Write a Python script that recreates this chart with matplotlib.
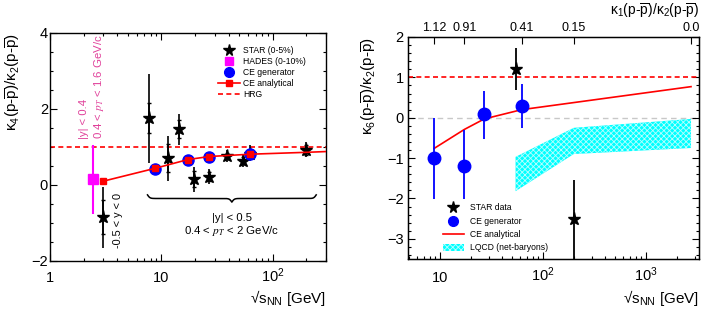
import numpy as np
import matplotlib
matplotlib.use('Agg')
import matplotlib.pyplot as plt
from matplotlib.lines import Line2D
from matplotlib.patches import Patch
from matplotlib.ticker import FixedLocator, MultipleLocator, NullFormatter, LogLocator, NullLocator

plt.rcParams['font.family'] = ['Liberation Sans', 'DejaVu Sans']
plt.rcParams['mathtext.fontset'] = 'custom'
plt.rcParams['mathtext.rm'] = 'Liberation Sans'
plt.rcParams['mathtext.it'] = 'Liberation Sans:italic'
plt.rcParams['mathtext.bf'] = 'Liberation Sans:bold'
plt.rcParams['hatch.linewidth'] = 0.6

# ---------------- Left panel data: kappa4/kappa2 ----------------
star_x = [3.0, 7.7, 11.5, 14.5, 19.6, 27.0, 39.0, 54.4, 62.4, 200.0]
star_y = [-0.85, 1.77, 0.71, 1.47, 0.16, 0.22, 0.76, 0.64, 0.82, 0.92]
star_lo = [-1.66, 0.59, 0.10, 1.06, -0.19, 0.02, 0.60, 0.47, 0.64, 0.73]
star_hi = [-0.05, 2.92, 1.29, 1.87, 0.47, 0.42, 0.93, 0.82, 1.05, 1.12]
star_stat_lo = [-1.30, 1.37, 0.35, 1.25, -0.05, 0.10, 0.68, 0.55, 0.72, 0.80]
star_stat_hi = [-0.40, 2.17, 1.07, 1.70, 0.38, 0.35, 0.85, 0.74, 0.93, 1.05]

hades_x = [2.42]
hades_y = [0.16]
hades_lo = [-0.75]
hades_hi = [1.06]

gen4_x = [8.8, 17.3, 27.0, 62.4]
gen4_y = [0.43, 0.67, 0.75, 0.81]

ce4_line_x = [3.0, 8.8, 17.3, 27.0, 62.4, 200.0, 300.0]
ce4_line_y = [0.10, 0.44, 0.67, 0.75, 0.81, 0.86, 0.88]
ce4_mark_x = [3.0, 8.8, 17.3, 27.0, 62.4]
ce4_mark_y = [0.10, 0.44, 0.67, 0.75, 0.81]

hrg_level = 1.0

xticksL = [1, 10, 100]
xticklabelsL = ['1', '10', '$10^2$']

# ---------------- Right panel data: kappa6/kappa2 ----------------
star6_x = [54.4, 200.0]
star6_y = [1.20, -2.52]
star6_lo = [0.69, -3.60]
star6_hi = [1.72, -1.54]

gen6_x = [8.8, 17.3, 27.0, 62.4]
gen6_y = [-1.00, -1.20, 0.08, 0.29]
gen6_lo = [-2.02, -2.02, -0.52, -0.26]
gen6_hi = [0.00, -0.30, 0.67, 0.84]

ce6_x = [8.8, 17.3, 27.0, 62.4, 2760.0]
ce6_y = [-0.76, -0.29, -0.03, 0.20, 0.77]

lqcd_x = [54.4, 200.0, 2760.0]
lqcd_lo = [-1.82, -0.90, -0.75]
lqcd_hi = [-0.97, -0.25, -0.03]

xticksR = [10, 100, 1000]
xticklabelsR = ['10', '$10^2$', '$10^3$']
top_ticks = [8.8, 17.3, 62.4, 200.0, 2760.0]
top_labels = ['1.12', '0.91', '0.41', '0.15', '0.0']

RED = '#ff0000'
BLUE = '#0000ff'
MAG = '#ff00ff'
MAGTXT = '#e0409a'
CYAN = '#00ffff'

fig = plt.figure(figsize=(7.08, 3.13), dpi=100)
axL = fig.add_axes([50/708, (313-261)/313, 276/708, 228/313])
axR = fig.add_axes([408/708, (313-259)/313, 291/708, 222/313])


def style(ax, top=True):
    ax.tick_params(which='both', direction='in', top=top, right=True,
                   labelsize=10.5, width=0.8)
    ax.tick_params(which='major', length=5)
    ax.tick_params(which='minor', length=2.5)
    for s in ax.spines.values():
        s.set_linewidth(1.0)


def brace_pts(x0, x1, ytop, h, n=600, beta=140):
    u0, u1 = np.log10(x0), np.log10(x1)
    t = np.linspace(0, 0.5, n // 2)
    half = 1/(1+np.exp(-beta*(t - t[0]))) + 1/(1+np.exp(-beta*(t - t[-1])))
    yy = np.concatenate([half, half[-2::-1]])
    tt = np.linspace(0, 1, len(yy))
    u = u0 + tt*(u1 - u0)
    v = ytop - (yy - 0.5)*h
    return 10**u, v

# ======================= LEFT =======================
ax = axL
ax.set_xscale('log')
ax.set_xlim(1, 300)
ax.set_ylim(-2, 4)
style(ax)
ax.xaxis.set_major_locator(FixedLocator(xticksL))
ax.xaxis.set_minor_locator(LogLocator(base=10, subs=np.arange(2, 10)))
ax.xaxis.set_minor_formatter(NullFormatter())
ax.set_xticks(xticksL)
labs = ax.set_xticklabels(xticklabelsL)
for lb in labs:
    lb.set_va('baseline')
ax.tick_params(axis='x', which='major', pad=14.8)
ax.tick_params(axis='y', which='major', pad=1.5)
ax.yaxis.set_major_locator(MultipleLocator(2))
ax.yaxis.set_minor_locator(MultipleLocator(0.5))

ax.axhline(hrg_level, color=RED, ls=(0, (3, 2)), lw=1.2, zorder=2)

# HADES
hy = np.array(hades_y)
ax.errorbar(hades_x, hades_y, yerr=[hy - np.array(hades_lo), np.array(hades_hi) - hy],
            fmt='none', ecolor=MAG, elinewidth=1.5, zorder=3)
ax.plot(hades_x, hades_y, ls='none', marker='s', color=MAG, ms=6.5, zorder=4)

# STAR
sy = np.array(star_y)
ax.errorbar(star_x, star_y, yerr=[sy - np.array(star_lo), np.array(star_hi) - sy],
            fmt='none', ecolor='k', elinewidth=1.2, zorder=3)
ax.errorbar(star_x, star_y, yerr=[sy - np.array(star_stat_lo), np.array(star_stat_hi) - sy],
            fmt='none', ecolor='k', elinewidth=1.2, capsize=1.5, capthick=1.0, zorder=3)
ax.plot(star_x, star_y, ls='none', marker='*', color='k', ms=9.5, zorder=3.5)

# CE
ax.plot(gen4_x, gen4_y, ls='none', marker='o', color=BLUE, ms=8, zorder=4)
ax.plot(ce4_line_x, ce4_line_y, color=RED, lw=1.2, zorder=4.5)
ax.plot(ce4_mark_x, ce4_mark_y, ls='none', marker='s', color=RED, ms=5, zorder=5)

# annotations
ax.text(2.02, 1.21, '|y| < 0.4', rotation=90, ha='center', va='bottom',
        color=MAGTXT, fontsize=8.2)
ax.text(2.75, 1.21, '0.4 < $p_T$ < 1.6 GeV/c', rotation=90, ha='center', va='bottom',
        color=MAGTXT, fontsize=8.2, math_fontfamily='stix')
ax.text(4.06, -0.2, '-0.5 < y < 0', rotation=90, ha='center', va='top',
        color='k', fontsize=7.8)
bx, by = brace_pts(7.5, 245, -0.26, 0.19)
ax.plot(bx, by, color='k', lw=1.1, zorder=2)
ax.text(42.8, -0.87, '|y| < 0.5', ha='center', va='center', fontsize=8.2)
ax.text(42.8, -1.21, '0.4 < $p_T$ < 2 GeV/c', ha='center', va='center',
        fontsize=8.2, math_fontfamily='stix')

ax.set_ylabel('κ$_4$(p-$\\overline{\\rm p}$)/κ$_2$(p-$\\overline{\\rm p}$)', fontsize=11)
ax.yaxis.set_label_coords((13 - 50)/276, 1.0)
ax.yaxis.label.set_ha('right')
ax.yaxis.label.set_va('center')
ax.set_xlabel('√s$_{\\rm NN}$ [GeV]', fontsize=11)
ax.xaxis.set_label_coords(1.0, (261 - 288)/228)
ax.xaxis.label.set_ha('right')
ax.xaxis.label.set_va('top')

hL = [Line2D([], [], ls='none', marker='*', color='k', ms=8.5),
      Line2D([], [], ls='none', marker='s', color=MAG, ms=6),
      Line2D([], [], ls='none', marker='o', color=BLUE, ms=7),
      Line2D([], [], color=RED, marker='s', ms=4.5, lw=1.2),
      Line2D([], [], color=RED, ls=(0, (3, 2)), lw=1.2)]
lL = ['STAR (0-5%)', 'HADES (0-10%)', 'CE generator', 'CE analytical', 'HRG']
ax.legend(hL, lL, loc='upper left', bbox_to_anchor=(0.609, 0.945), frameon=False,
          fontsize=6.2, handlelength=2.6, handletextpad=0.3, labelspacing=0.25,
          borderpad=0, borderaxespad=0)

# ======================= RIGHT =======================
ax = axR
ax.set_xscale('log')
ax.set_xlim(4.9, 3300)
ax.set_ylim(-3.5, 2.0)
style(ax, top=False)
ax.xaxis.set_major_locator(FixedLocator(xticksR))
ax.xaxis.set_minor_locator(LogLocator(base=10, subs=np.arange(2, 10)))
ax.xaxis.set_minor_formatter(NullFormatter())
ax.set_xticks(xticksR)
labs = ax.set_xticklabels(xticklabelsR)
for lb in labs:
    lb.set_va('baseline')
ax.tick_params(axis='x', which='major', pad=16.2)
ax.tick_params(axis='y', which='major', pad=3)
ax.yaxis.set_major_locator(MultipleLocator(1))
ax.yaxis.set_minor_locator(MultipleLocator(0.2))

ax.axhline(0, color='#c8c8c8', ls=(0, (4, 3)), lw=1.0, zorder=1)
ax.axhline(hrg_level, color=RED, ls=(0, (3, 2)), lw=1.2, zorder=2)

ax.fill_between(lqcd_x, lqcd_lo, lqcd_hi, facecolor=CYAN, edgecolor='#b8ffff',
                hatch='xxxxxx', linewidth=0, zorder=1.5)
ax.plot(ce6_x, ce6_y, color=RED, lw=1.2, zorder=2.5)

gy = np.array(gen6_y)
ax.errorbar(gen6_x, gen6_y, yerr=[gy - np.array(gen6_lo), np.array(gen6_hi) - gy],
            fmt='none', ecolor=BLUE, elinewidth=1.3, zorder=3)
ax.plot(gen6_x, gen6_y, ls='none', marker='o', color=BLUE, ms=9, zorder=4)

s6 = np.array(star6_y)
ax.errorbar(star6_x, star6_y, yerr=[s6 - np.array(star6_lo), np.array(star6_hi) - s6],
            fmt='none', ecolor='k', elinewidth=1.3, zorder=3)
ax.plot(star6_x, star6_y, ls='none', marker='*', color='k', ms=9.5, zorder=4)

ax.set_ylabel('κ$_6$(p-$\\overline{\\rm p}$)/κ$_2$(p-$\\overline{\\rm p}$)', fontsize=11)
ax.yaxis.set_label_coords((369 - 408)/291, 1.0)
ax.yaxis.label.set_ha('right')
ax.yaxis.label.set_va('center')
ax.set_xlabel('√s$_{\\rm NN}$ [GeV]', fontsize=11)
ax.xaxis.set_label_coords(1.0, (259 - 288)/222)
ax.xaxis.label.set_ha('right')
ax.xaxis.label.set_va('top')

hR = [Line2D([], [], ls='none', marker='*', color='k', ms=8.5),
      Line2D([], [], ls='none', marker='o', color=BLUE, ms=7),
      Line2D([], [], color=RED, lw=1.2),
      Patch(facecolor=CYAN, edgecolor='#b8ffff', hatch='xxxxxx', linewidth=0)]
lR = ['STAR data', 'CE generator', 'CE analytical', 'LQCD (net-baryons)']
ax.legend(hR, lR, loc='upper left', bbox_to_anchor=(0.12, 0.25), frameon=False,
          fontsize=6.2, handlelength=2.4, handleheight=0.9, handletextpad=0.7,
          labelspacing=0.5, borderpad=0, borderaxespad=0)

# top axis
axT = ax.twiny()
axT.set_xscale('log')
axT.set_xlim(ax.get_xlim())
axT.xaxis.set_major_locator(FixedLocator(top_ticks))
axT.xaxis.set_minor_locator(NullLocator())
axT.set_xticks(top_ticks)
axT.set_xticklabels(top_labels)
axT.tick_params(axis='x', which='major', direction='in', length=5, width=0.8,
                labelsize=9, pad=2)
axT.set_xlabel('κ$_1$(p-$\\overline{\\rm p}$)/κ$_2$(p-$\\overline{\\rm p}$)', fontsize=10)
axT.xaxis.set_label_coords(1.0, 1 + (37 - 11)/222)
axT.xaxis.label.set_ha('right')
axT.xaxis.label.set_va('center')
axT.yaxis.set_visible(False)

fig.savefig('out.png', dpi=100)
